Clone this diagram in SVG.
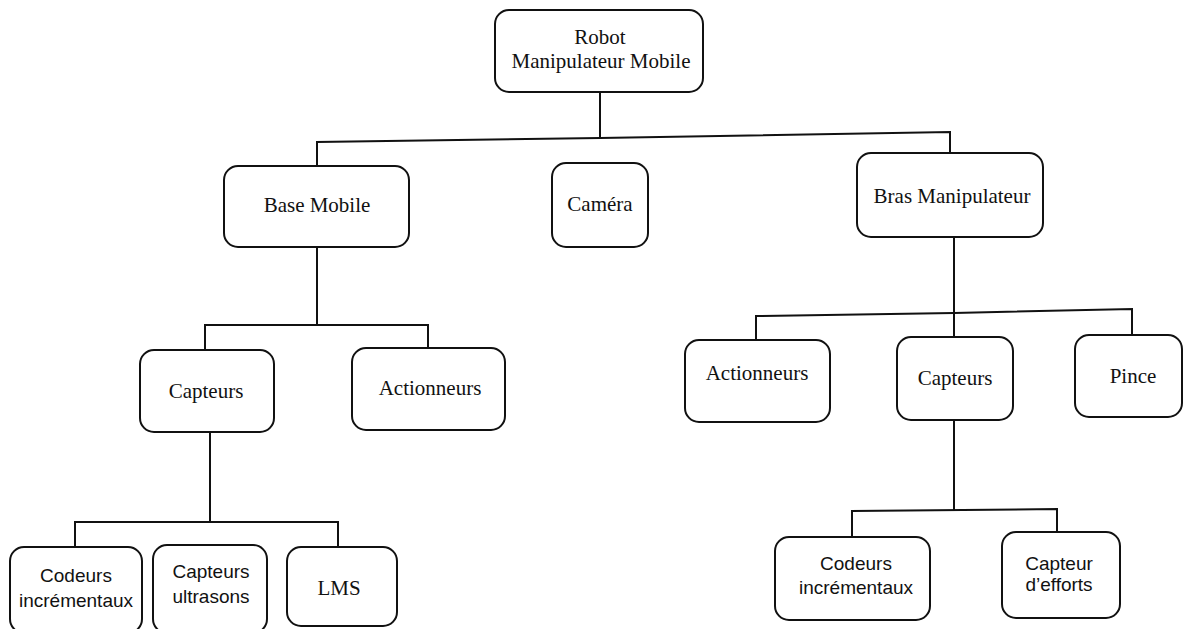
<svg xmlns="http://www.w3.org/2000/svg" width="1184" height="629" viewBox="0 0 1184 629">
  <style>
    .box { fill: #ffffff; stroke: #111111; stroke-width: 2; }
    .link { fill: none; stroke: #111111; stroke-width: 2; stroke-linejoin: miter; }
    .serif { font-family: "Liberation Serif", "Times New Roman", serif; font-size: 21px; fill: #111111; text-anchor: middle; }
    .sans { font-family: "Liberation Sans", Arial, sans-serif; font-size: 19px; fill: #111111; text-anchor: middle; }
  </style>
  <rect width="1184" height="629" fill="#ffffff"/>

  <!-- connectors -->
  <g id="connectors">
    <!-- root to level 1 -->
    <polyline class="link" points="600,92 600,138"/>
    <polyline class="link" points="317,166 317,142 600,138 950,132 950,153"/>
    <!-- Base Mobile to its children -->
    <polyline class="link" points="317,247 317,325"/>
    <polyline class="link" points="205,350 205,325 428,325 428,348"/>
    <!-- Capteurs (base) to sensors -->
    <polyline class="link" points="210,432 210,522"/>
    <polyline class="link" points="75,547 75,522 338,522 338,547"/>
    <!-- Bras Manipulateur to its children -->
    <polyline class="link" points="954,237 954,337"/>
    <polyline class="link" points="756,340 756,316 954,313 1132,309 1132,335"/>
    <!-- Capteurs (arm) to sensors -->
    <polyline class="link" points="954,420 954,510"/>
    <polyline class="link" points="852,537 852,511 1057,509 1057,532"/>
  </g>

  <g id="robot">
    <rect class="box" x="495" y="10" width="208" height="82" rx="14"/>
    <text class="serif" x="600" y="44">Robot</text>
    <text class="serif" x="601" y="68">Manipulateur Mobile</text>
  </g>

  <g id="base-mobile">
    <rect class="box" x="224" y="166" width="185" height="81" rx="14"/>
    <text class="serif" x="317" y="212">Base Mobile</text>
  </g>

  <g id="camera">
    <rect class="box" x="552" y="163" width="96" height="84" rx="14"/>
    <text class="serif" x="600" y="211">Caméra</text>
  </g>

  <g id="bras-manipulateur">
    <rect class="box" x="857" y="153" width="186" height="84" rx="14"/>
    <text class="serif" x="952" y="203">Bras Manipulateur</text>
  </g>

  <g id="base-capteurs">
    <rect class="box" x="140" y="350" width="134" height="82" rx="14"/>
    <text class="serif" x="206" y="398">Capteurs</text>
  </g>

  <g id="base-actionneurs">
    <rect class="box" x="352" y="348" width="153" height="82" rx="14"/>
    <text class="serif" x="430" y="395">Actionneurs</text>
  </g>

  <g id="bras-actionneurs">
    <rect class="box" x="685" y="340" width="145" height="82" rx="14"/>
    <text class="serif" x="757" y="380">Actionneurs</text>
  </g>

  <g id="bras-capteurs">
    <rect class="box" x="897" y="337" width="116" height="83" rx="14"/>
    <text class="serif" x="955" y="385">Capteurs</text>
  </g>

  <g id="pince">
    <rect class="box" x="1075" y="335" width="107" height="82" rx="14"/>
    <text class="serif" x="1133" y="383">Pince</text>
  </g>

  <g id="base-codeurs">
    <rect class="box" x="10" y="547" width="132" height="86" rx="14"/>
    <text class="sans" x="76" y="582">Codeurs</text>
    <text class="sans" x="76" y="607">incrémentaux</text>
  </g>

  <g id="base-ultrasons">
    <rect class="box" x="153" y="545" width="114" height="88" rx="14"/>
    <text class="sans" x="211" y="578">Capteurs</text>
    <text class="sans" x="211" y="603">ultrasons</text>
  </g>

  <g id="base-lms">
    <rect class="box" x="287" y="547" width="110" height="79" rx="14"/>
    <text class="serif" x="339" y="595">LMS</text>
  </g>

  <g id="bras-codeurs">
    <rect class="box" x="775" y="537" width="155" height="83" rx="14"/>
    <text class="sans" x="856" y="570">Codeurs</text>
    <text class="sans" x="856" y="594">incrémentaux</text>
  </g>

  <g id="bras-efforts">
    <rect class="box" x="1002" y="532" width="118" height="86" rx="14"/>
    <text class="sans" x="1059" y="570">Capteur</text>
    <text class="sans" x="1059" y="591">d’efforts</text>
  </g>
</svg>
